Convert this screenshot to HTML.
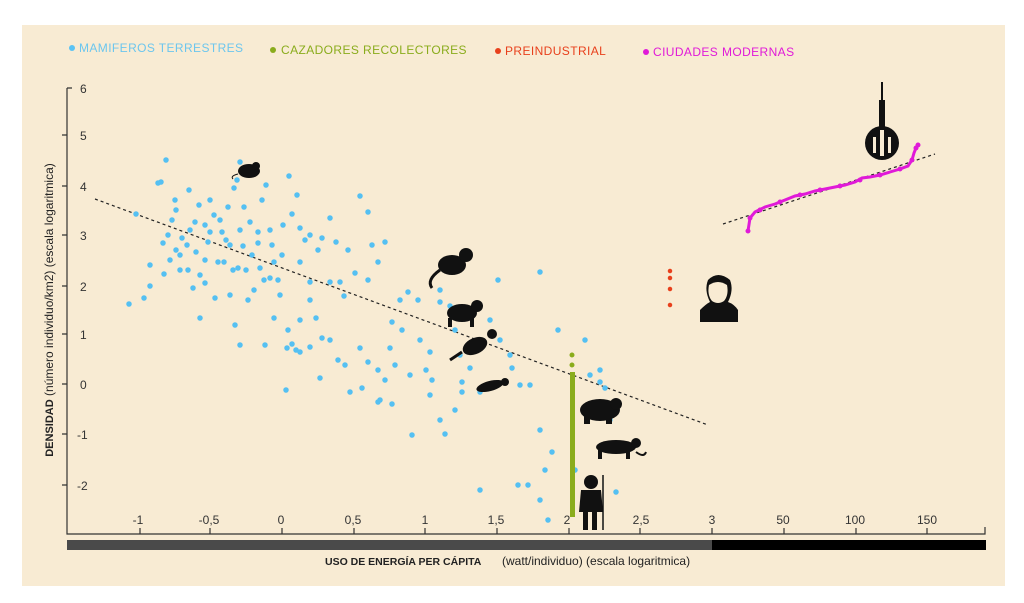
<!DOCTYPE html>
<html><head><meta charset="utf-8"><style>
body{margin:0;background:#fff;}
svg{display:block;font-family:"Liberation Sans",sans-serif;}
</style></head><body>
<svg width="1024" height="603" viewBox="0 0 1024 603">
<rect x="22" y="25" width="983" height="561" fill="#f8ebd3"/>
<g font-size="12" letter-spacing="0.4">
<circle cx="72" cy="48" r="3" fill="#5bc3f4"/><text x="79" y="52" fill="#6cc6ee">MAMIFEROS TERRESTRES</text>
<circle cx="273" cy="50" r="3" fill="#8aac1c"/><text x="281" y="54" fill="#8aac1c">CAZADORES RECOLECTORES</text>
<circle cx="498" cy="51" r="3" fill="#e8401c"/><text x="505" y="55" fill="#e8401c">PREINDUSTRIAL</text>
<circle cx="646" cy="52" r="3" fill="#e01ad8"/><text x="653" y="56" fill="#e01ad8">CIUDADES MODERNAS</text>
</g>
<g stroke="#333" stroke-width="1.2" fill="none">
<path d="M67 88 V534 H985 V527"/>
<path d="M67 88h5 M62 135h5 M62 186h5 M62 235h5 M62 286h5 M62 334h5 M62 384h5 M62 434h5 M62 485h5"/>
<path d="M140 534v-6 M210 534v-6 M282 534v-6 M354 534v-6 M425 534v-6 M497 534v-6 M569 534v-6 M640 534v-6 M712 534v-6 M784 534v-6 M856 534v-6 M927 534v-6"/>
</g>
<g font-size="12" fill="#333">
<text x="80" y="93">6</text><text x="80" y="140">5</text><text x="80" y="191">4</text><text x="80" y="240">3</text><text x="80" y="291">2</text><text x="80" y="339">1</text><text x="80" y="389">0</text><text x="77" y="439">-1</text><text x="77" y="490">-2</text>
</g>
<g font-size="12" fill="#333" text-anchor="middle">
<text x="138" y="524">-1</text><text x="209" y="524">-0,5</text><text x="281" y="524">0</text><text x="353" y="524">0,5</text><text x="425" y="524">1</text><text x="496" y="524">1,5</text><text x="567" y="524">2</text><text x="641" y="524">2,5</text><text x="712" y="524">3</text><text x="783" y="524">50</text><text x="855" y="524">100</text><text x="927" y="524">150</text>
</g>
<rect x="67" y="540" width="645" height="10" fill="#4a4a4a"/>
<rect x="712" y="540" width="274" height="10" fill="#000"/>
<text x="325" y="565" font-size="10.5" font-weight="bold" fill="#222">USO DE ENERGÍA PER CÁPITA</text>
<text x="502" y="565" font-size="12" fill="#222">(watt/individuo) (escala logaritmica)</text>
<text transform="translate(53,310) rotate(-90)" text-anchor="middle" font-size="12" fill="#222"><tspan font-weight="bold" font-size="11">DENSIDAD</tspan> (número individuo/km2) (escala logaritmica)</text>
<path d="M95 199 L708 425" stroke="#222" stroke-width="1.2" stroke-dasharray="3,3"/>
<path d="M723 224 L935 154" stroke="#222" stroke-width="1.2" stroke-dasharray="3,3"/>
<path stroke="#55c0f2" stroke-width="5.5" stroke-linecap="round" fill="none" d="M129 304h0M136 214h0M144 298h0M150 286h0M158 183h0M166 160h0M161 182h0M168 235h0M172 220h0M176 210h0M163 243h0M170 260h0M180 270h0M164 274h0M176 250h0M182 238h0M189 190h0M195 222h0M199 205h0M196 252h0M200 275h0M205 225h0M210 200h0M214 215h0M220 220h0M218 262h0M222 232h0M228 207h0M230 245h0M234 188h0M240 162h0M237 180h0M244 207h0M250 222h0M240 230h0M252 255h0M258 243h0M262 200h0M266 185h0M270 230h0M274 262h0M264 280h0M254 290h0M248 300h0M238 268h0M230 295h0M215 298h0M205 260h0M200 318h0M187 245h0M180 255h0M193 288h0M188 270h0M208 242h0M224 262h0M233 270h0M243 246h0M260 268h0M270 278h0M280 295h0M282 255h0M289 176h0M292 214h0M297 195h0M300 262h0M305 240h0M310 282h0M318 250h0M322 238h0M330 218h0M336 242h0M330 282h0M340 282h0M348 250h0M355 273h0M360 196h0M368 212h0M372 245h0M378 262h0M385 242h0M368 280h0M344 296h0M300 320h0M292 344h0M296 350h0M310 300h0M316 318h0M288 330h0M287 348h0M274 318h0M286 390h0M300 352h0M310 347h0M320 378h0M322 338h0M330 340h0M338 360h0M350 392h0M360 348h0M368 362h0M378 370h0M385 380h0M390 348h0M392 322h0M400 300h0M402 330h0M408 292h0M418 300h0M410 375h0M392 404h0M378 402h0M362 388h0M345 365h0M420 340h0M426 370h0M430 352h0M432 380h0M440 290h0M450 306h0M455 330h0M460 355h0M462 382h0M470 368h0M480 392h0M490 320h0M498 280h0M455 410h0M445 434h0M440 420h0M412 435h0M462 392h0M475 342h0M440 302h0M500 340h0M510 355h0M520 385h0M530 385h0M540 272h0M558 330h0M540 430h0M545 470h0M552 452h0M528 485h0M518 485h0M540 500h0M548 520h0M575 470h0M585 340h0M590 375h0M600 382h0M605 388h0M610 420h0M616 492h0M600 370h0M512 368h0M480 490h0M430 395h0M395 365h0M380 400h0M310 235h0M300 228h0M175 200h0M190 230h0M210 232h0M226 240h0M246 270h0M258 232h0M272 245h0M283 225h0M205 283h0M235 325h0M240 345h0M265 345h0M278 280h0M150 265h0"/>
<rect x="570" y="372" width="5" height="145" fill="#8aac1c"/>
<path stroke="#8aac1c" stroke-width="5" stroke-linecap="round" d="M572 355h0M572 365h0"/>
<path stroke="#e8401c" stroke-width="4.5" stroke-linecap="round" d="M670 271h0M670 278h0M670 289h0M670 305h0"/>
<polyline fill="none" stroke="#e01ad8" stroke-width="3" points="748,231 750,218 755,212 765,207 775,204 785,200 795,196 805,194 815,191 825,189 835,187 845,185 855,182 862,178 870,177 880,175 890,172 900,169 908,166 912,160 914,153 916,148 918,145"/>
<path stroke="#e01ad8" stroke-width="5" stroke-linecap="round" d="M748 231h0M750 218h0M760 210h0M780 202h0M800 195h0M820 190h0M840 186h0M860 180h0M880 175h0M900 169h0M912 160h0M916 148h0M918 145h0"/>
<g fill="#111">
<ellipse cx="249" cy="171" rx="11" ry="7"/><circle cx="256" cy="166" r="4"/><path d="M238 174 q-8 2 -5 5" stroke="#111" fill="none"/>
<circle cx="882" cy="143" r="17"/><rect x="879" y="100" width="6" height="40"/><rect x="881" y="82" width="2" height="20"/>
<path d="M880 130h4v26h-4z M873 137h3v16h-3z M888 137h3v16h-3z" fill="#f8ebd3"/>
<path d="M700 322 v-12 q6 -6 10 -8 q-6 -12 -2 -22 q10 -10 22 0 q4 10 -2 22 q6 2 10 8 v12z"/>
<path d="M709 285 q9 -6 18 0 q2 10 -3 16 q-6 4 -12 0 q-5 -6 -3 -16z" fill="#f8ebd3"/>
<ellipse cx="452" cy="265" rx="14" ry="10"/><circle cx="466" cy="255" r="7"/><path d="M440 270 q-14 10 -8 18" stroke="#111" stroke-width="3" fill="none"/>
<ellipse cx="462" cy="313" rx="15" ry="9"/><circle cx="477" cy="306" r="6"/><rect x="448" y="318" width="4" height="9"/><rect x="470" y="318" width="4" height="9"/>
<ellipse cx="475" cy="346" rx="13" ry="8" transform="rotate(-25 475 346)"/><circle cx="492" cy="334" r="5"/><path d="M462 352 l-12 8" stroke="#111" stroke-width="3"/>
<ellipse cx="490" cy="386" rx="14" ry="5" transform="rotate(-15 490 386)"/><circle cx="505" cy="382" r="4"/>
<ellipse cx="600" cy="410" rx="20" ry="11"/><circle cx="616" cy="404" r="6"/><rect x="584" y="412" width="6" height="12"/><rect x="606" y="412" width="6" height="12"/>
<ellipse cx="616" cy="447" rx="20" ry="7"/><circle cx="636" cy="443" r="5"/><rect x="598" y="448" width="4" height="11"/><rect x="626" y="448" width="4" height="11"/><path d="M636 452 q8 6 10 0" stroke="#111" fill="none" stroke-width="2"/>
<circle cx="591" cy="482" r="7"/><path d="M581 490 h20 l2 22 h-24z"/><rect x="583" y="510" width="5" height="20"/><rect x="592" y="510" width="5" height="20"/>
<path d="M603 475 v55" stroke="#111" stroke-width="1.5"/>
</g>
</svg>
</body></html>
